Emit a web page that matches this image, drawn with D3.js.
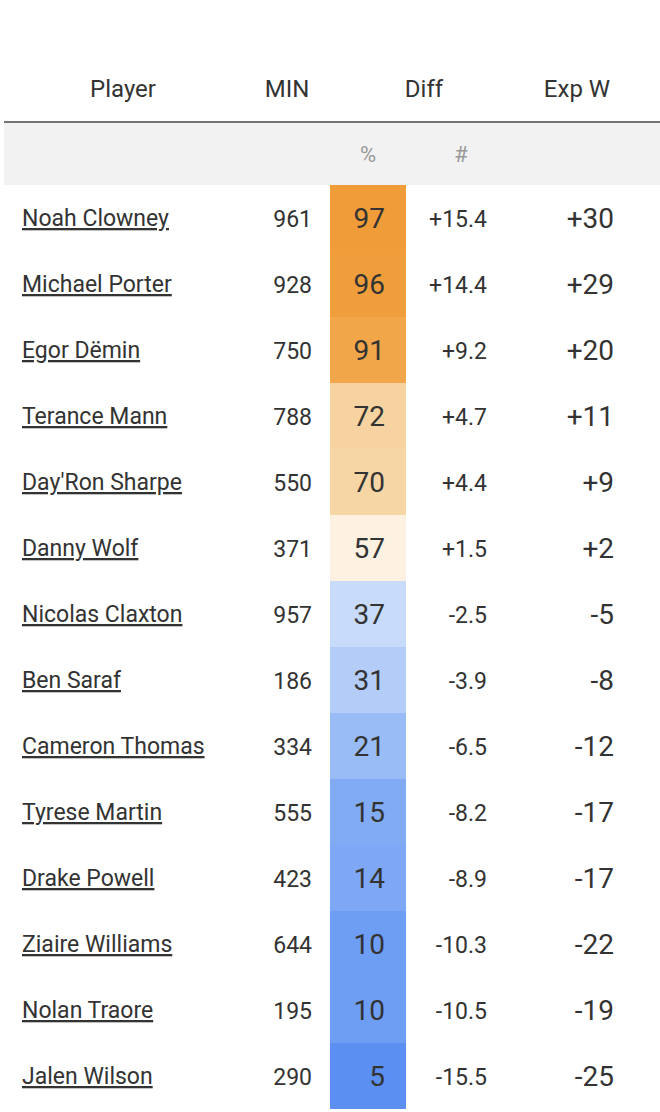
<!DOCTYPE html>
<html><head><meta charset="utf-8">
<script src="https://cdn.jsdelivr.net/npm/d3@7"></script>
<style>body{margin:0;background:#fff}text{font-family:Roboto,"Noto Sans",sans-serif}</style>
</head><body><svg></svg>
<script>
let players = ["Noah Clowney","Michael Porter","Egor Dëmin","Terance Mann","Day'Ron Sharpe","Danny Wolf","Nicolas Claxton","Ben Saraf","Cameron Thomas","Tyrese Martin","Drake Powell","Ziaire Williams","Nolan Traore","Jalen Wilson"];
let minutes = [961,928,750,788,550,371,957,186,334,555,423,644,195,290];
let pct = [97,96,91,72,70,57,37,31,21,15,14,10,10,5];
let diff = ["+15.4","+14.4","+9.2","+4.7","+4.4","+1.5","-2.5","-3.9","-6.5","-8.2","-8.9","-10.3","-10.5","-15.5"];
let expW = ["+30","+29","+20","+11","+9","+2","-5","-8","-12","-17","-17","-22","-19","-25"];
let headers = ["Player","MIN","Diff","Exp W"];

let w = 660, h = 1112;
let svg = d3.select("svg").attr("width", w).attr("height", h);
let rowH = 66, top0 = 185;
let y = (i) => top0 + rowH * i;
let color = d3.scaleLinear()
  .domain([5,10,15,21,31,37,50,57,65,72,91,97])
  .range(["#5b8ff2","#6e9ef4","#82abf5","#99bbf6","#b4cdf8","#c8dbfa","#f3f7fe","#fdf1e2","#f8dcb4","#f6d3a0","#f1a64a","#f09c38"]);

// header
let hx = [123, 287, 424, 577];
svg.selectAll(".hd").data(headers).enter().append("text")
  .attr("x", (d, i) => hx[i]).attr("y", 97).attr("text-anchor", "middle")
  .attr("font-size", 24).attr("fill", "#333").text(d => d);
svg.append("line").attr("x1", 4).attr("x2", 660).attr("y1", 122).attr("y2", 122)
  .attr("stroke", "#444").attr("stroke-width", 1.5);
svg.append("rect").attr("x", 4).attr("y", 123).attr("width", 656).attr("height", 62).attr("fill", "#f2f2f2");
svg.append("text").attr("x", 368).attr("y", 162).attr("text-anchor", "middle").attr("font-size", 22).attr("fill", "#999").text("%");
svg.append("text").attr("x", 461).attr("y", 162).attr("text-anchor", "middle").attr("font-size", 22).attr("fill", "#999").text("#");

let rows = svg.selectAll(".row").data(players).enter().append("g")
  .attr("transform", (d, i) => `translate(0,${y(i)})`);
rows.append("rect").attr("x", 330).attr("width", 76).attr("height", rowH)
  .attr("fill", (d, i) => color(pct[i]));
rows.append("text").attr("x", 22).attr("y", 41).attr("font-size", 23).attr("fill", "#333")
  .attr("text-decoration", "underline").text(d => d);
rows.append("text").attr("x", 312).attr("y", 42).attr("text-anchor", "end").attr("font-size", 23).attr("fill", "#333")
  .text((d, i) => minutes[i]);
rows.append("text").attr("x", 385).attr("y", 43).attr("text-anchor", "end").attr("font-size", 28).attr("fill", "#333")
  .text((d, i) => pct[i]);
rows.append("text").attr("x", 487).attr("y", 42).attr("text-anchor", "end").attr("font-size", 23).attr("fill", "#333")
  .text((d, i) => diff[i]);
rows.append("text").attr("x", 614).attr("y", 43).attr("text-anchor", "end").attr("font-size", 28).attr("fill", "#333")
  .text((d, i) => expW[i]);
</script></body></html>
